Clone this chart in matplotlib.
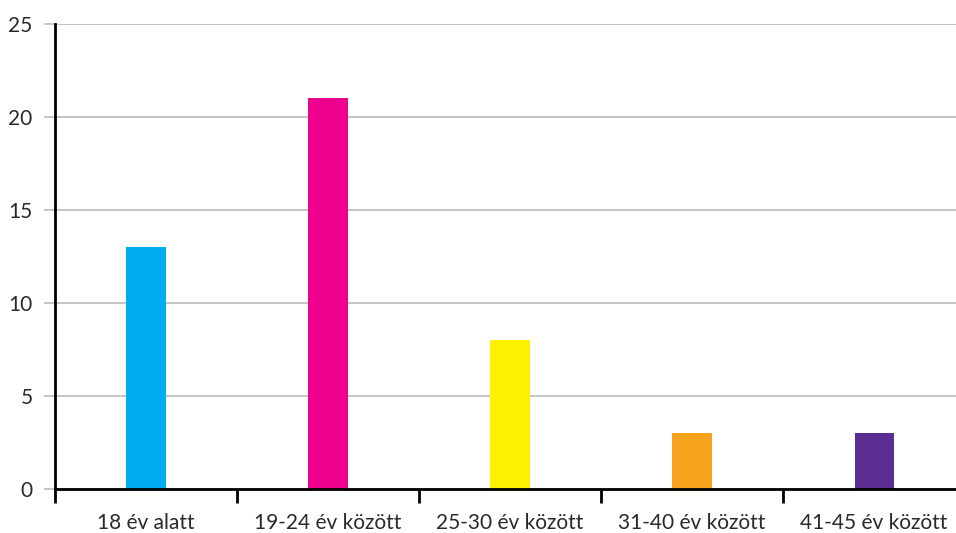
import matplotlib.pyplot as plt
import numpy as np

categories = ['18 év alatt', '19-24 év között', '25-30 év között', '31-40 év között', '41-45 év között']
values = [13, 21, 8, 3, 3]
colors = ['#00AEEF', '#EC008C', '#FFF200', '#F7A21B', '#5C2D91']
yticks = [0, 5, 10, 15, 20, 25]

plt.rcParams['font.family'] = ['Lato', 'DejaVu Sans']

fig = plt.figure(figsize=(9.56, 5.33), dpi=100)
ax = fig.add_axes([0.0575, 0.0826, 0.952, 0.8724])

x = np.arange(len(categories))
ax.bar(x, values, width=0.215, color=colors, zorder=3)

ax.set_xlim(-0.5, 4.5)
ax.set_ylim(0, 25)

ax.set_yticks(yticks)
ax.set_yticklabels([str(v) for v in yticks], fontsize=15, color='#2a2a2a')
ax.yaxis.grid(True, color='#BBBBBB', linewidth=1.2, zorder=0)
ax.tick_params(axis='y', length=8, color='#BBBBBB', width=1.2, pad=8)

ax.set_xticks(x)
ax.set_xticklabels(categories, fontsize=15, color='#2a2a2a')
ax.tick_params(axis='x', which='major', length=0, pad=17)
ax.set_xticks(np.arange(-0.5, len(categories), 1.0), minor=True)
ax.tick_params(axis='x', which='minor', length=10, width=2, color='black', direction='out')

for s in ['top', 'right']:
    ax.spines[s].set_visible(False)
for s in ['left', 'bottom']:
    ax.spines[s].set_linewidth(2)
    ax.spines[s].set_color('black')
    ax.spines[s].set_zorder(4)

fig.savefig('out.png', dpi=100)
